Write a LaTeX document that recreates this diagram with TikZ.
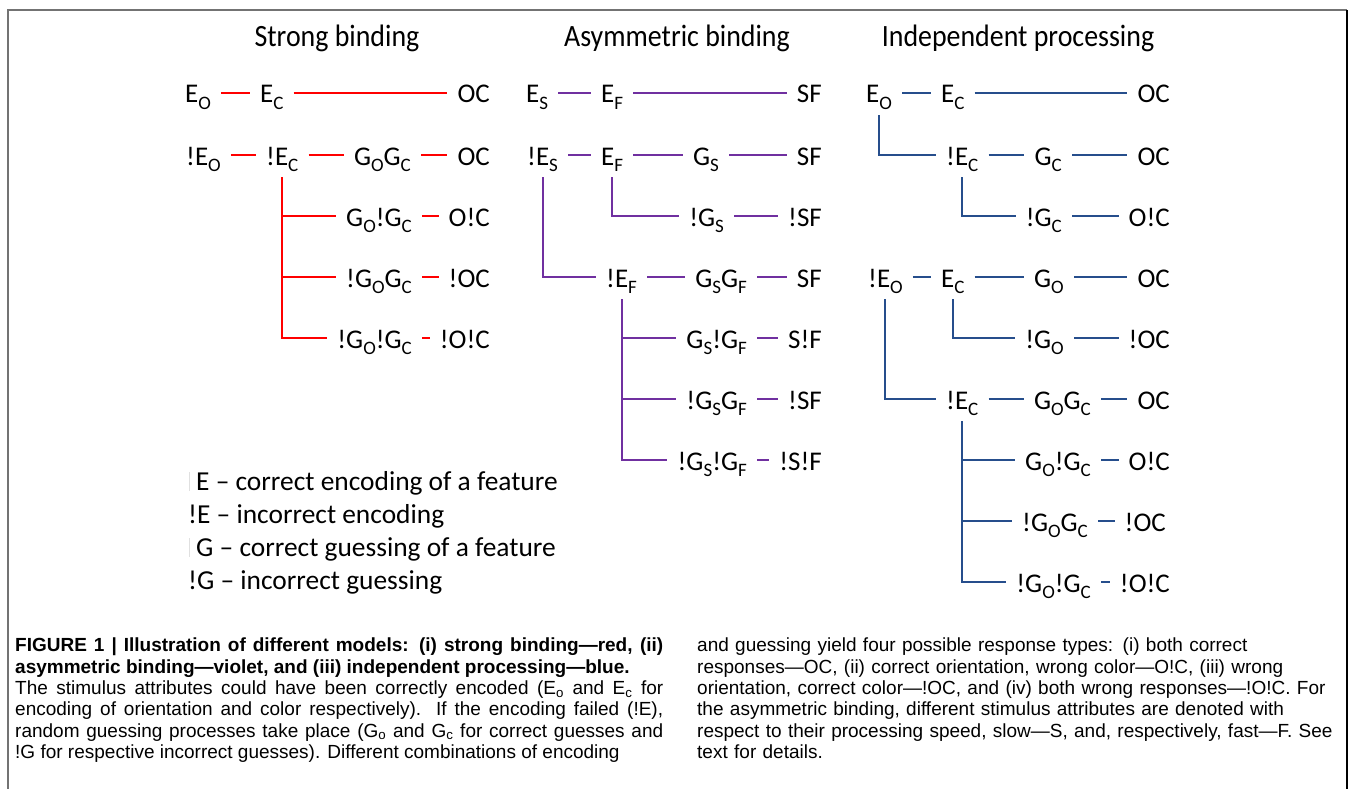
\documentclass[tikz,border=0pt]{standalone}
\usepackage{fontspec}
\setmainfont{Liberation Sans}
\newfontfamily\lbfont{Carlito}
\newfontfamily\ttlfont[FakeStretch=0.9]{Carlito}
\newfontfamily\capfont{Liberation Sans}
\usetikzlibrary{positioning}
\definecolor{sbred}{RGB}{255,0,0}
\definecolor{abviolet}{RGB}{112,48,160}
\definecolor{ipblue}{RGB}{38,78,140}
\newcommand\lo[1]{\raisebox{-6pt}{\fontsize{19pt}{19pt}\selectfont #1}}
\newcommand\nobang{\makebox[8pt][l]{\hspace{1pt}\textcolor{black!12}{\rule[-1pt]{1.2pt}{19pt}}}}
\tikzset{
lab/.style={font=\lbfont\fontsize{27pt}{30pt}\selectfont,
    inner xsep=10pt, inner ysep=0pt, text height=32pt, text depth=12pt},
le/.style={lab, anchor=west},
ri/.style={lab, anchor=east},
ttl/.style={font=\ttlfont\fontsize{31pt}{34pt}\selectfont, inner sep=0pt},
leg/.style={font=\lbfont\fontsize{27.4pt}{30pt}\selectfont, inner sep=0pt, anchor=base west},
capt/.style={font=\capfont\fontsize{19pt}{21.3pt}\selectfont, inner sep=0pt, anchor=north west},
sb/.style={sbred, line width=2pt},
ab/.style={abviolet, line width=2pt},
ip/.style={ipblue, line width=2pt},
}
\begin{document}
\begin{tikzpicture}[x=1pt, y=-1pt]
\useasboundingbox (0,0) rectangle (1355,789);
% frame
\draw[black!55, line width=2pt] (8,789) -- (8,10) -- (1347,10);
\draw[black, line width=1.5pt] (1347,10) -- (1347,789);

% titles
\node[ttl] (tsb) at (337,38) {Strong binding};
\node[ttl] (tab) at (677,38) {Asymmetric binding};
\node[ttl] (tip) at (1018,38) {Independent processing};

% strong binding
\node[le] (sEo) at (175,93) {E\lo{O}};
\node[le] (sEc) at (250,93) {E\lo{C}};
\node[ri] (sOC) at (500,93) {OC};
\node[le] (sEoN) at (176,155) {!E\lo{O}};
\node[le] (sEcN) at (256,155) {!E\lo{C}};
\node[ri] (sGG) at (421,155) {G\lo{O}G\lo{C}};
\node[ri] (sOC2) at (500,155) {OC};
\node[ri] (sGGa) at (422,216) {G\lo{O}!G\lo{C}};
\node[ri] (sOCa) at (500,216) {O!C};
\node[ri] (sGGb) at (422,277) {!G\lo{O}G\lo{C}};
\node[ri] (sOCb) at (500,277) {!OC};
\node[ri] (sGGc) at (422,338) {!G\lo{O}!G\lo{C}};
\node[ri] (sOCc) at (500,338) {!O!C};
\draw[sb] (sEo) -- (sEc);
\draw[sb] (sEc) -- (sOC);
\draw[sb] (sEoN) -- (sEcN);
\draw[sb] (sEcN) -- (sGG);
\draw[sb] (sGG) -- (sOC2);
\draw[sb] (sEcN.south) |- (sGGa.west);
\draw[sb] (sEcN.south) |- (sGGb.west);
\draw[sb] (sEcN.south) |- (sGGc.west);
\draw[sb] (sGGa) -- (sOCa);
\draw[sb] (sGGb) -- (sOCb);
\draw[sb] (sGGc) -- (sOCc);

% asymmetric binding
\node[le] (aEs) at (516,93) {E\lo{S}};
\node[le] (aEf) at (591,93) {E\lo{F}};
\node[ri] (aSF) at (832,93) {SF};
\node[le] (aEsN) at (517,155) {!E\lo{S}};
\node[le] (aEf2) at (591,155) {E\lo{F}};
\node[ri] (aGs) at (729,155) {G\lo{S}};
\node[ri] (aSF2) at (832,155) {SF};
\node[ri] (aGsN) at (734,216) {!G\lo{S}};
\node[ri] (aSFn) at (832,216) {!SF};
\node[le] (aEfN) at (596,277) {!E\lo{F}};
\node[ri] (aGG) at (757,277) {G\lo{S}G\lo{F}};
\node[ri] (aSF4) at (832,277) {SF};
\node[ri] (aGGa) at (757,338) {G\lo{S}!G\lo{F}};
\node[ri] (aSFa) at (832,338) {S!F};
\node[ri] (aGGb) at (757,399) {!G\lo{S}G\lo{F}};
\node[ri] (aSFb) at (832,399) {!SF};
\node[ri] (aGGc) at (757,460) {!G\lo{S}!G\lo{F}};
\node[ri] (aSFc) at (832,460) {!S!F};
\draw[ab] (aEs) -- (aEf);
\draw[ab] (aEf) -- (aSF);
\draw[ab] (aEsN) -- (aEf2);
\draw[ab] (aEf2) -- (aGs);
\draw[ab] (aGs) -- (aSF2);
\draw[ab] (aEf2.south) |- (aGsN.west);
\draw[ab] (aGsN) -- (aSFn);
\draw[ab] (aEsN.south) |- (aEfN.west);
\draw[ab] (aEfN) -- (aGG);
\draw[ab] (aGG) -- (aSF4);
\draw[ab] (aEfN.south) |- (aGGa.west);
\draw[ab] (aEfN.south) |- (aGGb.west);
\draw[ab] (aEfN.south) |- (aGGc.west);
\draw[ab] (aGGa) -- (aSFa);
\draw[ab] (aGGb) -- (aSFb);
\draw[ab] (aGGc) -- (aSFc);

% independent processing
\node[le] (iEo) at (856,93) {E\lo{O}};
\node[le] (iEc) at (931,93) {E\lo{C}};
\node[ri] (iOC) at (1180,93) {OC};
\node[le] (iEcN) at (936,155) {!E\lo{C}};
\node[ri] (iGc) at (1072,155) {G\lo{C}};
\node[ri] (iOC2) at (1180,155) {OC};
\node[ri] (iGcN) at (1072,216) {!G\lo{C}};
\node[ri] (iOCa) at (1180,216) {O!C};
\node[le] (iEoN) at (858,277) {!E\lo{O}};
\node[le] (iEc2) at (931,277) {E\lo{C}};
\node[ri] (iGo) at (1074,277) {G\lo{O}};
\node[ri] (iOC4) at (1180,277) {OC};
\node[ri] (iGoN) at (1074,338) {!G\lo{O}};
\node[ri] (iOCb) at (1180,338) {!OC};
\node[le] (iEcM) at (936,399) {!E\lo{C}};
\node[ri] (iGG) at (1101,399) {G\lo{O}G\lo{C}};
\node[ri] (iOC6) at (1180,399) {OC};
\node[ri] (iGGa) at (1101,460) {G\lo{O}!G\lo{C}};
\node[ri] (iOCc) at (1180,460) {O!C};
\node[ri] (iGGb) at (1098,521) {!G\lo{O}G\lo{C}};
\node[ri] (iOCd) at (1176,521) {!OC};
\node[ri] (iGGc) at (1101,582) {!G\lo{O}!G\lo{C}};
\node[ri] (iOCe) at (1180,582) {!O!C};
\draw[ip] (iEo) -- (iEc);
\draw[ip] (iEc) -- (iOC);
\draw[ip] (iEo.south) |- (iEcN.west);
\draw[ip] (iEcN) -- (iGc);
\draw[ip] (iGc) -- (iOC2);
\draw[ip] (iEcN.south) |- (iGcN.west);
\draw[ip] (iGcN) -- (iOCa);
\draw[ip] (iEoN) -- (iEc2);
\draw[ip] (iEc2) -- (iGo);
\draw[ip] (iGo) -- (iOC4);
\draw[ip] (iEc2.south) |- (iGoN.west);
\draw[ip] (iGoN) -- (iOCb);
\draw[ip] (iEoN.south) |- (iEcM.west);
\draw[ip] (iEcM) -- (iGG);
\draw[ip] (iGG) -- (iOC6);
\draw[ip] (iEcM.south) |- (iGGa.west);
\draw[ip] (iEcM.south) |- (iGGb.west);
\draw[ip] (iEcM.south) |- (iGGc.west);
\draw[ip] (iGGa) -- (iOCc);
\draw[ip] (iGGb) -- (iOCd);
\draw[ip] (iGGc) -- (iOCe);

% legend
\node[leg] (leg1) at (188,490) {\nobang E – correct encoding of a feature};
\node[leg] (leg2) at (188,523) {!E – incorrect encoding};
\node[leg] (leg3) at (188,556) {\nobang G – correct guessing of a feature};
\node[leg] (leg4) at (188,589) {!G – incorrect guessing};

% caption
\node[capt, text width=648pt, align=justify] (capl) at (15,638) {%
\textbf{FIGURE 1 | Illustration of different models: (i) strong binding—red, (ii)\linebreak
asymmetric binding—violet, and (iii) independent processing—blue.}\\
The stimulus attributes could have been correctly encoded (E\textsubscript{o} and E\textsubscript{c} for\linebreak
encoding of orientation and color respectively). If the encoding failed (!E),\linebreak
random guessing processes take place (G\textsubscript{o} and G\textsubscript{c} for correct guesses and\linebreak
!G for respective incorrect guesses). Different combinations of encoding};
\node[capt, text width=645pt, align=left] (capr) at (697,638) {%
and guessing yield four possible response types: (i) both correct\\
responses—OC, (ii) correct orientation, wrong color—O!C, (iii) wrong\\
orientation, correct color—!OC, and (iv) both wrong responses—!O!C. For\\
the asymmetric binding, different stimulus attributes are denoted with\\
respect to their processing speed, slow—S, and, respectively, fast—F. See\\
text for details.};
\end{tikzpicture}
\end{document}
